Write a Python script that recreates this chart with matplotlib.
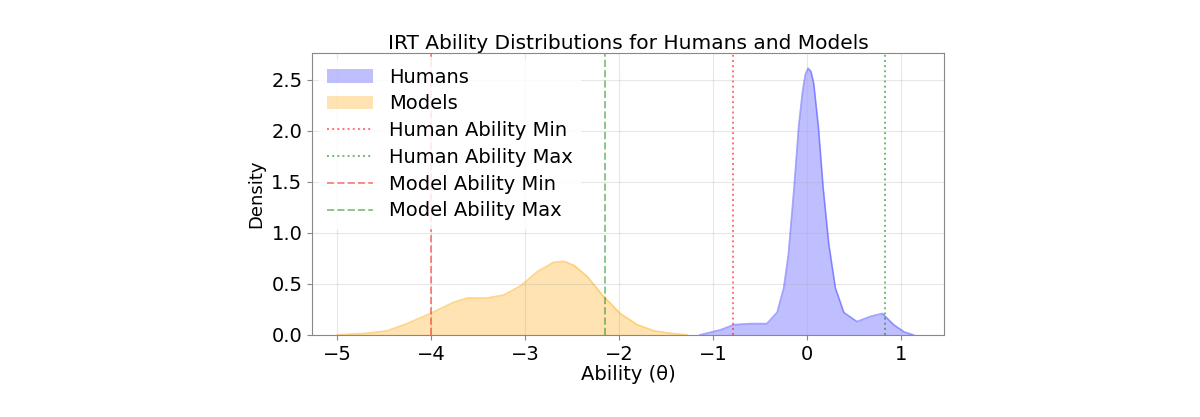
import numpy as np
import matplotlib.pyplot as plt

# -------------------------
# Data
# -------------------------
human_x = [-1.14, -0.92, -0.78, -0.60, -0.43, -0.32, -0.25, -0.20, -0.14, -0.09,
           -0.05, -0.02, 0.01, 0.04, 0.07, 0.12, 0.17, 0.23, 0.30, 0.39,
           0.53, 0.67, 0.80, 0.92, 1.03, 1.13]
human_density = [0.0, 0.05, 0.10, 0.11, 0.11, 0.22, 0.46, 0.79, 1.44, 2.05,
                 2.38, 2.55, 2.61, 2.58, 2.46, 2.03, 1.44, 0.89, 0.46, 0.22,
                 0.13, 0.18, 0.21, 0.10, 0.03, 0.0]

model_x = [-5.0, -4.7, -4.47, -4.26, -4.01, -3.76, -3.62, -3.41, -3.23, -3.05,
           -2.87, -2.70, -2.59, -2.48, -2.34, -2.17, -1.99, -1.81, -1.63, -1.45,
           -1.28]
model_density = [0.0, 0.015, 0.04, 0.11, 0.21, 0.32, 0.36, 0.36, 0.39, 0.48,
                 0.62, 0.71, 0.72, 0.68, 0.57, 0.38, 0.21, 0.10, 0.04, 0.015,
                 0.0]

human_min, human_max = -0.79, 0.83
model_min, model_max = -4.0, -2.15

# -------------------------
# Plot
# -------------------------
fig = plt.figure(figsize=(12, 4.17), dpi=100)
ax = fig.add_axes([0.26, 0.197, 0.527, 0.676])

ax.fill_between(human_x, human_density, color="blue", alpha=0.25, linewidth=0, label="Humans")
ax.plot(human_x, human_density, color="blue", alpha=0.35, linewidth=1.2)
ax.fill_between(model_x, model_density, color="orange", alpha=0.3, linewidth=0, label="Models")
ax.plot(model_x, model_density, color="orange", alpha=0.45, linewidth=1.2)

ax.axvline(human_min, color="red", linestyle=":", linewidth=1.4, alpha=0.55, label="Human Ability Min")
ax.axvline(human_max, color="green", linestyle=":", linewidth=1.4, alpha=0.55, label="Human Ability Max")
ax.axvline(model_min, color="red", linestyle="--", linewidth=1.4, alpha=0.45, label="Model Ability Min")
ax.axvline(model_max, color="green", linestyle="--", linewidth=1.4, alpha=0.45, label="Model Ability Max")

ax.set_xlim(-5.27, 1.46)
ax.set_ylim(0, 2.76)
ax.set_xticks([-5, -4, -3, -2, -1, 0, 1])
ax.set_yticks([0.0, 0.5, 1.0, 1.5, 2.0, 2.5])

ax.set_title("IRT Ability Distributions for Humans and Models", fontsize=14.5, pad=3)
ax.set_xlabel("Ability (θ)", fontsize=14, labelpad=1)
ax.set_ylabel("Density", fontsize=13, labelpad=4)
ax.tick_params(labelsize=14, color="#888888")

for s in ax.spines.values():
    s.set_color("#888888")

ax.grid(True, alpha=0.3)

leg = ax.legend(loc="upper left", fontsize=14, handlelength=2.4, edgecolor="white",
                framealpha=0.85, labelspacing=0.4, borderaxespad=0.35)

plt.savefig("out.png", dpi=100)
